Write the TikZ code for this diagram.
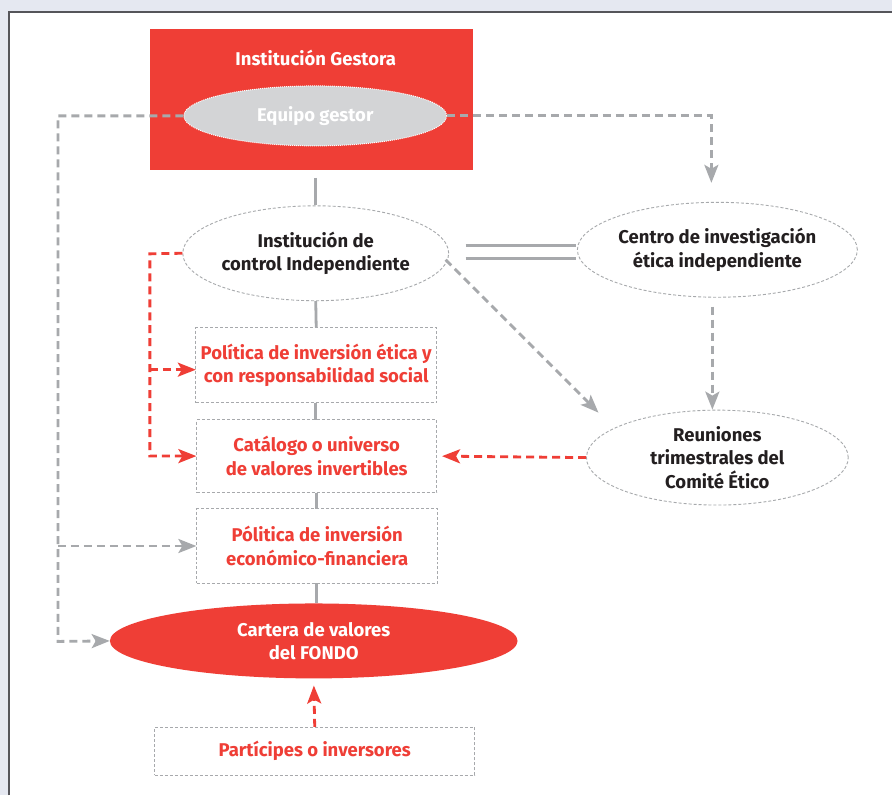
\documentclass[tikz,border=0pt]{standalone}
\usepackage{fontspec}
\setmainfont{Fira Sans}
\usetikzlibrary{arrows.meta,shapes.geometric}
\definecolor{bgc}{RGB}{229,232,241}
\definecolor{fred}{RGB}{239,62,54}
\definecolor{lgray}{RGB}{167,169,172}
\definecolor{egray}{RGB}{211,212,214}
\definecolor{tblack}{RGB}{35,31,32}
\definecolor{framec}{RGB}{85,85,90}
\begin{document}
\begin{tikzpicture}[x=1pt,y=-1pt,
  lbl/.style={font=\bfseries\fontsize{18.5}{23.5}\selectfont, align=center, inner sep=0pt},
  dbox/.style={draw=lgray, dash pattern=on 3pt off 2pt, line width=0.9pt, inner sep=0pt, text=fred},
  dell/.style={ellipse, draw=lgray, dash pattern=on 3pt off 2pt, line width=0.9pt, inner sep=0pt, minimum width=262pt, minimum height=95pt, text=tblack},
  gconn/.style={draw=lgray, line width=2.8pt, dash pattern=on 8pt off 5pt},
  rconn/.style={draw=fred, line width=2.8pt, dash pattern=on 8pt off 5pt},
  garrow/.style={-{Stealth[length=18pt,width=14pt,inset=4pt]}},
  sline/.style={draw=lgray, line width=2.8pt}
]
% background and panel
\fill[bgc] (0,0) rectangle (893,796);
\fill[white] (9,12) rectangle (893,796);
\draw[framec, line width=1.6pt] (9,796) -- (9,12) -- (893,12);
\useasboundingbox (0,0) rectangle (893,796);

% Institución Gestora
\node[fill=fred, minimum width=323pt, minimum height=141pt, inner sep=0pt] (gest) at (311.5,99.5) {};
\node[lbl, text=white] (gesttxt) at (316,58) {Institución Gestora};
\node[ellipse, fill=egray, draw=white, dash pattern=on 1pt off 1pt, line width=1pt, minimum width=263pt, minimum height=60pt, inner sep=0pt, lbl, text=white] (eq) at (315.5,116) {Equipo gestor};

% main column
\node[dell, lbl] (ctl) at (316,253.5) {Institución de\\control Independiente};
\node[dbox, lbl, minimum width=241pt, minimum height=75pt] (pol) at (316.5,365.5) {Política de inversión ética y\\con responsabilidad social};
\node[dbox, lbl, minimum width=240pt, minimum height=73pt] (cat) at (317,456.5) {Catálogo o universo\\de valores invertibles};
\node[dbox, lbl, minimum width=241pt, minimum height=75pt] (econ) at (317.5,546.5) {Pólitica de inversión\\económico-financiera};
\node[ellipse, fill=fred, minimum width=408pt, minimum height=75pt, inner sep=0pt, lbl, text=white] (cart) at (314,641.5) {Cartera de valores\\del FONDO};
\node[dbox, lbl, minimum width=320pt, minimum height=48pt] (part) at (315,752) {Partícipes o inversores};

% right column
\node[dell, lbl] (cen) at (718,250) {Centro de investigación\\ética independiente};
\node[dell, lbl] (reu) at (718,458) {Reuniones\\trimestrales del\\Comité Ético};

% solid connectors
\coordinate (g0) at (316,178);
\draw[sline] (g0) -- (ctl.north);
\draw[sline] (ctl.south) -- (pol.north);
\coordinate (p2) at (316,403); \coordinate (p3) at (316,420);
\coordinate (p4) at (317,493); \coordinate (p5) at (317,509);
\coordinate (p6) at (317,584); \coordinate (p7) at (317,604);
\draw[sline] (p2) -- (p3);
\draw[sline] (p4) -- (p5);
\draw[sline] (p6) -- (p7);

% double line
\coordinate (d1) at (466,246); \coordinate (d2) at (577,246);
\coordinate (d3) at (466,259); \coordinate (d4) at (577,259);
\draw[sline] (d1) -- (d2);
\draw[sline] (d3) -- (d4);

% gray dashed connectors from Equipo gestor
\coordinate (lt) at (58,116);
\coordinate (lb) at (58,642);
\coordinate (lm) at (58,546.5);
\draw[gconn, garrow] (eq.west) -- (lt) -- (lb) -- (cart.west);
\draw[gconn, garrow] (lm) -- (econ.west);
\coordinate (rt) at (712,116);
\coordinate (rtip) at (712,183);
\draw[gconn, garrow] (eq.east) -- (rt) -- (rtip);

% gray dashed to Reuniones
\coordinate (c1) at (713,307);
\coordinate (c2) at (713,410);
\draw[gconn, garrow] (c1) -- (c2);
\coordinate (a1) at (446,260);
\coordinate (a2) at (599,413);
\draw[gconn, garrow] (a1) -- (a2);

% red dashed connectors
\coordinate (r1) at (150,254);
\coordinate (r2) at (150,456.5);
\coordinate (r3) at (150,370);
\coordinate (r4) at (196,370);
\draw[rconn, garrow] (ctl.west) -- (r1) -- (r2) -- (cat.west);
\draw[rconn, garrow] (r3) -- (r4);
\draw[rconn, garrow, shorten >=5pt] (reu.west) -- (cat.east);
\draw[rconn, garrow, shorten >=7pt] (part.north) -- (cart.south);
\end{tikzpicture}
\end{document}
